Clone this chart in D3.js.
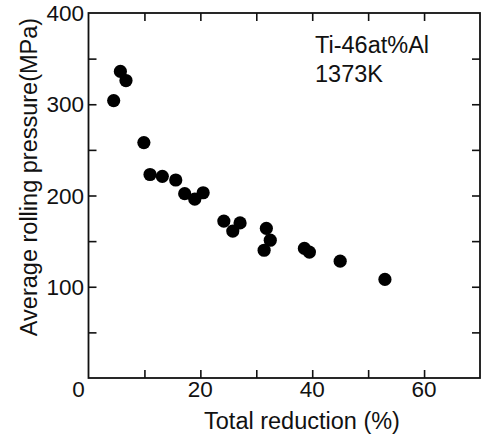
<!DOCTYPE html>
<html><head><meta charset="utf-8">
<script src="https://cdn.jsdelivr.net/npm/d3@7"></script>
<style>
body{margin:0;background:#fff;}
text{font-family:"Liberation Sans",Arial,Helvetica,sans-serif;fill:#111;}
</style></head>
<body><svg id="c" width="482" height="436"></svg>
<script>
const reduction = [4.5, 5.7, 6.7, 9.9, 11.0, 13.2, 15.6, 17.2, 19.0, 20.5, 24.2, 25.8, 27.1, 31.8, 32.5, 31.4, 38.6, 39.5, 45.0, 53.0];
const pressure  = [304, 336, 326, 258, 223, 221, 217, 202, 196, 203, 172, 161, 170, 164, 151, 140, 142, 138, 128, 108];
const xTicks = [0, 10, 20, 30, 40, 50, 60, 70];
const xLabels = [20, 40, 60];
const yTicks = [0, 50, 100, 150, 200, 250, 300, 350, 400];
const yLabels = [100, 200, 300, 400];
const annotation = ["Ti-46at%Al", "1373K"];
const xTitle = "Total reduction (%)";
const yTitle = "Average rolling pressure(MPa)";

const svg = d3.select("#c");
const L = 88.5, R = 480, T = 13, B = 378;
const x = d3.scaleLinear().domain([0, 70]).range([L, R]);
const y = d3.scaleLinear().domain([0, 400]).range([B, T]);
const tk = 8;

const axStyle = g => { g.selectAll("path").remove(); g.selectAll("line").attr("stroke","#111").attr("stroke-width",1.6); g.selectAll("text").remove(); };
const xt = xTicks.filter(v => v > 0 && v < 70);
const yt = yTicks.filter(v => v > 0 && v < 400);
svg.append("g").attr("transform",`translate(0,${B})`).call(d3.axisBottom(x).tickValues(xt).tickSize(-tk)).call(axStyle);
svg.append("g").attr("transform",`translate(0,${T})`).call(d3.axisTop(x).tickValues(xt).tickSize(-tk)).call(axStyle);
svg.append("g").attr("transform",`translate(${L},0)`).call(d3.axisLeft(y).tickValues(yt).tickSize(-tk)).call(axStyle);
svg.append("g").attr("transform",`translate(${R},0)`).call(d3.axisRight(y).tickValues(yt).tickSize(-tk)).call(axStyle);

svg.append("rect").attr("x",L).attr("y",T).attr("width",R-L).attr("height",B-T)
  .attr("fill","none").attr("stroke","#111").attr("stroke-width",1.8);

svg.selectAll(".xl").data(xLabels).enter().append("text")
  .attr("x", d => x(d)).attr("y", 397).attr("text-anchor","middle").attr("font-size",22.5).text(d => d);
svg.append("text").attr("x", x(0)-10).attr("y", 397).attr("text-anchor","middle").attr("font-size",22.5).text("0");
svg.selectAll(".yl").data(yLabels).enter().append("text")
  .attr("x", 84).attr("y", d => y(d)).attr("dy","0.36em").attr("text-anchor","end").attr("font-size",22.5).text(d => d);

svg.append("text").attr("x", 302).attr("y", 429).attr("text-anchor","middle").attr("font-size",23.5).text(xTitle);
svg.append("text").attr("transform","translate(37,177) rotate(-90)").attr("text-anchor","middle").attr("font-size",23.5).text(yTitle);

svg.selectAll(".ann").data(annotation).enter().append("text")
  .attr("x", 315).attr("y", (d,i) => 53 + i*29).attr("font-size",23.5).text(d => d);

svg.selectAll("circle").data(reduction.map((r,i)=>[r,pressure[i]])).enter().append("circle")
  .attr("cx", d => x(d[0])).attr("cy", d => y(d[1])).attr("r", 6.6).attr("fill","#000");
</script></body></html>
